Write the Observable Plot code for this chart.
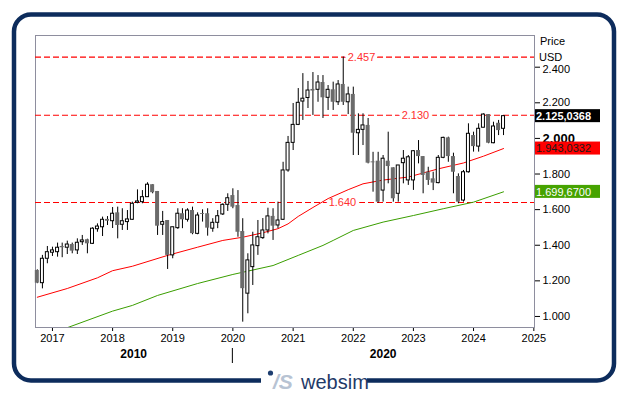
<!DOCTYPE html>
<html><head><meta charset="utf-8">
<script src="https://cdn.jsdelivr.net/npm/d3@7"></script>
<script src="https://cdn.jsdelivr.net/npm/@observablehq/plot@0.6"></script>
<style>
body{margin:0;background:#fff;}
#chart{width:629px;height:395px;}
</style></head><body><div id="chart"></div>
<script>
// Monthly candles (USD)
const months = ["2016-10","2016-11","2016-12",
"2017-01","2017-02","2017-03","2017-04","2017-05","2017-06","2017-07","2017-08","2017-09","2017-10","2017-11","2017-12",
"2018-01","2018-02","2018-03","2018-04","2018-05","2018-06","2018-07","2018-08","2018-09","2018-10","2018-11","2018-12",
"2019-01","2019-02","2019-03","2019-04","2019-05","2019-06","2019-07","2019-08","2019-09","2019-10","2019-11","2019-12",
"2020-01","2020-02","2020-03","2020-04","2020-05","2020-06","2020-07","2020-08","2020-09","2020-10","2020-11","2020-12",
"2021-01","2021-02","2021-03","2021-04","2021-05","2021-06","2021-07","2021-08","2021-09","2021-10","2021-11","2021-12",
"2022-01","2022-02","2022-03","2022-04","2022-05","2022-06","2022-07","2022-08","2022-09","2022-10","2022-11","2022-12",
"2023-01","2023-02","2023-03","2023-04","2023-05","2023-06","2023-07","2023-08","2023-09","2023-10","2023-11","2023-12",
"2024-01","2024-02","2024-03","2024-04","2024-05","2024-06","2024-07"];
const open = [1258,1187,1324,
1358,1361,1393,1386,1404,1371,1417,1431,1408,1490,1501,1545,
1535,1582,1515,1530,1543,1638,1642,1670,1740,1702,1515,1539,
1343,1496,1577,1543,1595,1464,1578,1577,1493,1526,1573,1627,
1679,1623,1477,1128,1277,1395,1440,1483,1562,1511,1543,1820,
1975,2076,2207,2227,2275,2273,2314,2228,2273,2203,2303,2203,
2247,2029,2048,2073,1868,1872,1707,1872,1835,1689,1861,1764,
1764,1932,1898,1810,1773,1749,1891,2003,1898,1786,1651,1810,
2016,1954,2060,2134,1973,2085,2054];
const high = [1262,1343,1393,
1389,1412,1412,1423,1412,1436,1455,1434,1498,1520,1558,1561,
1612,1614,1605,1595,1642,1711,1707,1751,1740,1702,1590,1539,
1501,1605,1605,1605,1614,1582,1599,1605,1549,1595,1633,1689,
1717,1707,1549,1352,1473,1539,1550,1608,1605,1642,1866,2011,
2196,2280,2364,2320,2370,2353,2353,2297,2316,2325,2457,2288,
2288,2138,2138,2112,1922,1922,1904,2035,1835,1848,1932,1904,
1932,1988,1898,1838,1810,1904,2007,2007,1917,1801,1820,2082,
2035,2082,2138,2134,2091,2101,2128];
const low = [1184,1155,1296,
1337,1333,1330,1348,1352,1348,1399,1352,1404,1473,1449,1511,
1494,1436,1483,1483,1539,1633,1633,1670,1689,1455,1455,1264,
1324,1489,1493,1530,1459,1459,1530,1451,1473,1493,1567,1590,
1605,1445,968,1015,1174,1343,1433,1464,1427,1493,1539,1810,
1932,2072,2101,2168,2129,2203,2112,2157,2157,2185,2185,2134,
1904,1904,1960,1857,1698,1636,1642,1745,1642,1642,1745,1736,
1708,1857,1689,1736,1707,1745,1886,1866,1689,1633,1642,1805,
1923,1923,2060,1970,1970,2016,2016];
const close = [1187,1324,1361,
1371,1386,1386,1404,1367,1414,1427,1408,1493,1505,1543,1535,
1577,1511,1535,1545,1633,1646,1670,1740,1695,1507,1530,1343,
1501,1577,1543,1595,1465,1567,1573,1496,1526,1563,1627,1664,
1614,1473,1156,1315,1399,1445,1483,1562,1507,1539,1820,1975,
2076,2200,2223,2269,2266,2314,2228,2273,2203,2303,2203,2247,
2029,2048,2073,1861,1863,1642,1886,1842,1661,1848,1886,1894,
1928,1898,1792,1764,1749,1891,2003,1898,1810,1642,1810,2026,
1954,2054,2134,1973,2067,2044,2125];

// Moving averages
const redMonths = ["2016-10","2017-04","2017-10","2018-01","2018-05","2018-12","2019-06","2019-11","2020-03","2020-07","2020-10","2020-12","2021-02","2021-05","2021-08","2021-12","2022-03","2022-07","2022-12","2023-06","2023-11","2024-03","2024-07"];
const redValues = [1108,1157,1217,1257,1282,1343,1389,1427,1445,1470,1493,1520,1562,1612,1662,1712,1745,1766,1783,1829,1862,1900,1943];
const greenMonths = ["2017-04","2018-01","2018-05","2018-10","2019-06","2020-01","2020-09","2021-02","2021-07","2021-09","2022-01","2022-07","2023-01","2023-07","2024-01","2024-07"];
const greenValues = [937,1030,1062,1118,1185,1236,1286,1343,1399,1427,1483,1530,1567,1605,1642,1700];

// Horizontal levels and their label dates
const levels = [2457, 2130, 1640];
const levelLabelDates = ["2022-02-20","2023-01-13","2021-10-27"];

// Axis ticks
const yTicks = [1000,1200,1400,1600,1800,2000,2200,2400];
const xTickYears = [2017,2018,2019,2020,2021,2022,2023,2024,2025];
const decadeLabels = ["2010","2020"];

// Last values
const lastPrice = 2125.0368, lastRed = 1943.0332, lastGreen = 1699.67;

const de = d3.formatLocale({decimal: ",", thousands: ".", grouping: [3], currency: ["", " $"]});
const fmt0 = de.format(",.0f");
const fmt4 = de.format(",.4f");
const parseM = s => new Date(s + "-01T00:00:00Z");

const candles = months.map((m, i) => ({date: parseM(m), open: open[i], high: high[i], low: low[i], close: close[i]}));
const red = redMonths.map((m, i) => ({date: parseM(m), value: redValues[i]}));
const green = greenMonths.map((m, i) => ({date: parseM(m), value: greenValues[i]}));
const levelLabels = levels.map((v, i) => ({date: new Date(levelLabelDates[i] + "T00:00:00Z"), value: v}));
const xTicks = xTickYears.map(y => new Date(Date.UTC(y, 0, 1)));
const xDomain = [new Date("2016-09-20T00:00:00Z"), new Date("2025-01-05T00:00:00Z")];

const FONT = "'Liberation Sans', Arial, sans-serif";

const plot = Plot.plot({
  width: 629, height: 395,
  marginLeft: 35, marginRight: 95, marginTop: 35, marginBottom: 68,
  style: {fontFamily: FONT, fontSize: "11px", color: "#000", background: "#fff", overflow: "visible"},
  x: {type: "utc", domain: xDomain, ticks: xTicks, tickFormat: d => String(d.getUTCFullYear()), tickSize: 4, tickPadding: 3, label: null},
  y: {domain: [938, 2578], ticks: yTicks, tickFormat: fmt0, axis: "right", tickSize: 5, tickPadding: 3, label: null},
  marks: [
    Plot.frame({stroke: "#8e8e9e"}),
    Plot.ruleY(levels, {stroke: "#ff0000", strokeDasharray: "6,3", strokeWidth: 1.2}),
    Plot.text(levelLabels, {x: "date", y: "value", text: d => fmt0(d.value), fill: "#ff3030", stroke: "white", strokeWidth: 7, paintOrder: "stroke", fontSize: 11}),
    Plot.line(red, {x: "date", y: "value", stroke: "#ff0000", strokeWidth: 1, clip: true}),
    Plot.line(green, {x: "date", y: "value", stroke: "#3a9e00", strokeWidth: 1, clip: true}),
    Plot.ruleX(candles, {x: "date", y1: "low", y2: "high", stroke: "#000", strokeWidth: 1}),
    Plot.rect(candles.filter(d => d.close < d.open), {x1: "date", x2: "date", y1: "open", y2: "close", insetLeft: -2, insetRight: -2,
      fill: "#6b6b6b"}),
    Plot.rect(candles.filter(d => d.close >= d.open), {x1: "date", x2: "date", y1: "open", y2: "close", insetLeft: -1.5, insetRight: -1.5,
      fill: "#ffffff", stroke: "#000000", strokeWidth: 1})
  ]
});

document.getElementById("chart").appendChild(plot);

const svg = d3.select(plot);
const xs = plot.scale("x"), ys = plot.scale("y");

// Adjust some tick labels like the reference
svg.selectAll("text").each(function() {
  const t = d3.select(this);
  if (t.text() === "2.000") t.attr("font-size", 13).attr("font-weight", "bold");
  if (t.text() === "2.400") t.attr("y", 6);
});

const ann = svg.append("g").attr("font-family", FONT).attr("text-anchor", "start");

// Price / USD
ann.append("text").attr("x", 540).attr("y", 45).attr("font-size", 11).attr("text-anchor", "start").text("Price");
ann.append("text").attr("x", 539).attr("y", 61).attr("font-size", 11).attr("text-anchor", "start").text("USD");

// Value boxes
function box(v, bg, fg, txt, bold) {
  const y = ys.apply(v);
  ann.append("rect").attr("x", 535).attr("y", y - 6.5).attr("width", 65).attr("height", 13).attr("fill", bg);
  ann.append("text").attr("x", 536).attr("y", y + 4.2).attr("font-size", 11).attr("text-anchor", "start")
    .attr("font-weight", bold ? "bold" : "normal").attr("fill", fg).text(txt);
}
box(lastPrice, "#000", "#fff", fmt4(lastPrice), true);
box(lastRed, "#ff0000", "#1a1a1a", fmt4(lastRed), false);
box(lastGreen, "#46a300", "#fff", fmt4(lastGreen), false);

// Decade labels
const x2020 = xs.apply(parseM("2020-01"));
const left = xs.apply(xDomain[0]), right = xs.apply(xDomain[1]);
ann.append("line").attr("x1", x2020).attr("x2", x2020).attr("y1", 348).attr("y2", 363).attr("stroke", "#000");
ann.append("text").attr("x", (left + x2020) / 2).attr("y", 358).attr("text-anchor", "middle").attr("font-size", 12).attr("font-weight", "bold").text(decadeLabels[0]);
ann.append("text").attr("x", (x2020 + right) / 2).attr("y", 358).attr("text-anchor", "middle").attr("font-size", 12).attr("font-weight", "bold").text(decadeLabels[1]);

// Outer rounded frame
ann.append("rect").attr("x", 14).attr("y", 14.5).attr("width", 600).attr("height", 366).attr("rx", 17)
  .attr("fill", "none").attr("stroke", "#0d2c5c").attr("stroke-width", 4.5);
ann.append("rect").attr("x", 261).attr("y", 372).attr("width", 106).attr("height", 20).attr("fill", "#fff");
// Logo
ann.append("circle").attr("cx", 270.5).attr("cy", 373).attr("r", 2.6).attr("fill", "#1e3e70");
ann.append("text").attr("x", 273).attr("y", 389).attr("font-size", 21).attr("font-style", "italic").attr("font-weight", "bold")
  .attr("text-anchor", "start").attr("fill", "#b7c3d3").text("/S");
ann.append("text").attr("x", 301).attr("y", 389).attr("font-size", 20).attr("text-anchor", "start").attr("fill", "#1f3a68").text("websim");
</script>
</body></html>
